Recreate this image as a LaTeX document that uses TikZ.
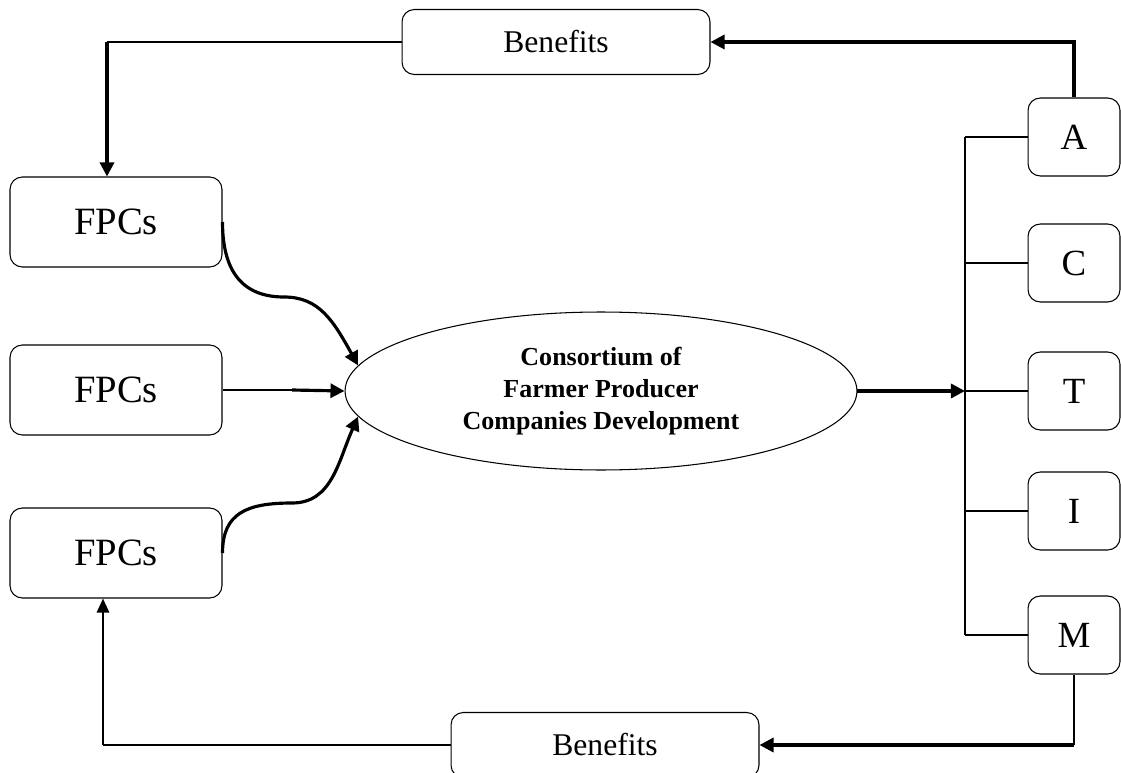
\documentclass[tikz,border=0pt]{standalone}
\usepackage{fontspec}
\setmainfont{Liberation Serif}
\usetikzlibrary{shapes.geometric,arrows.meta}

\begin{document}
\begin{tikzpicture}[x=0.02cm,y=-0.02cm,
	box/.style={draw,rounded corners=7pt,line width=0.6pt},
	fpcbox/.style={box,minimum width=4.24cm,minimum height=1.8cm,font=\fontsize{22}{26}\selectfont},
	benbox/.style={box,minimum width=6.16cm,minimum height=1.3cm,font=\fontsize{18}{22}\selectfont},
	sidebox/.style={box,minimum width=1.84cm,minimum height=1.56cm,font=\fontsize{21}{25}\selectfont},
	thin line/.style={line width=0.6pt},
	thick arr/.style={line width=1.8pt,-{Triangle[length=8pt,width=8pt]}}]
\useasboundingbox (0,0) rectangle (1121,773);
\node [benbox] (ben1) at (556,42) {Benefits};
\node [benbox] (ben2) at (605,745) {Benefits};
\node [fpcbox] (f1) at (116,222) {FPCs};
\node [fpcbox] (f2) at (116,390) {FPCs};
\node [fpcbox] (f3) at (116,553) {FPCs};
\node [draw, ellipse, line width=0.6pt, inner sep=0pt, minimum width=10.24cm, minimum height=3.16cm,
	align=center, font=\fontsize{14.8}{18}\selectfont\bfseries] (ell) at (601,391)
	{Consortium of\\Farmer Producer\\Companies Development};
\foreach \n/\y in {A/137,C/263,T/391,I/511,M/635}
	\node [sidebox] (\n) at (1074,\y) {\n};
\coordinate (bustop) at (965,137);
\coordinate (busbot) at (965,635);
\coordinate (c1) at (107,42);
\coordinate (c2) at (103,745);
\coordinate (c3) at (1074,745);
\coordinate (mid) at (292,390);
\coordinate (k1) at (284,297);
\coordinate (k3) at (292,503);
% bus to the side boxes
\draw [thin line] (bustop) -- (busbot);
\foreach \n in {A,C,T,I,M}
	\draw [thin line] (\n.west -| bustop) -- (\n.west);
\draw [thick arr] (ell.east) -- (T.west -| bustop);
% benefits loops
\draw [thick arr] (A.north) |- (ben1.east);
\draw [thin line] (ben1.west) -- (c1);
\draw [thick arr] (c1) -- (f1.north -| c1);
\draw [thin line] (M.south) -- (c3);
\draw [thick arr] (c3) -- (ben2.east);
\draw [thin line] (ben2.west) -- (c2);
\draw [line width=1.2pt,-{Triangle[length=8pt,width=7pt]}] (c2) -- (f3.south -| c2);
% fpcs into the consortium
\draw [thin line] (f2.east) -- (mid);
\draw [thick arr] (mid) -- (ell.west);
\draw [thick arr] (f1.east) .. controls +(0,45) and +(-45,0) .. (k1)
	.. controls +(35,0) and +(-25,-45) .. (ell.174);
\draw [thick arr] (f3.east) .. controls +(0,-40) and +(-45,0) .. (k3)
	.. controls +(40,0) and +(-20,45) .. (ell.186);
\end{tikzpicture}
\end{document}
